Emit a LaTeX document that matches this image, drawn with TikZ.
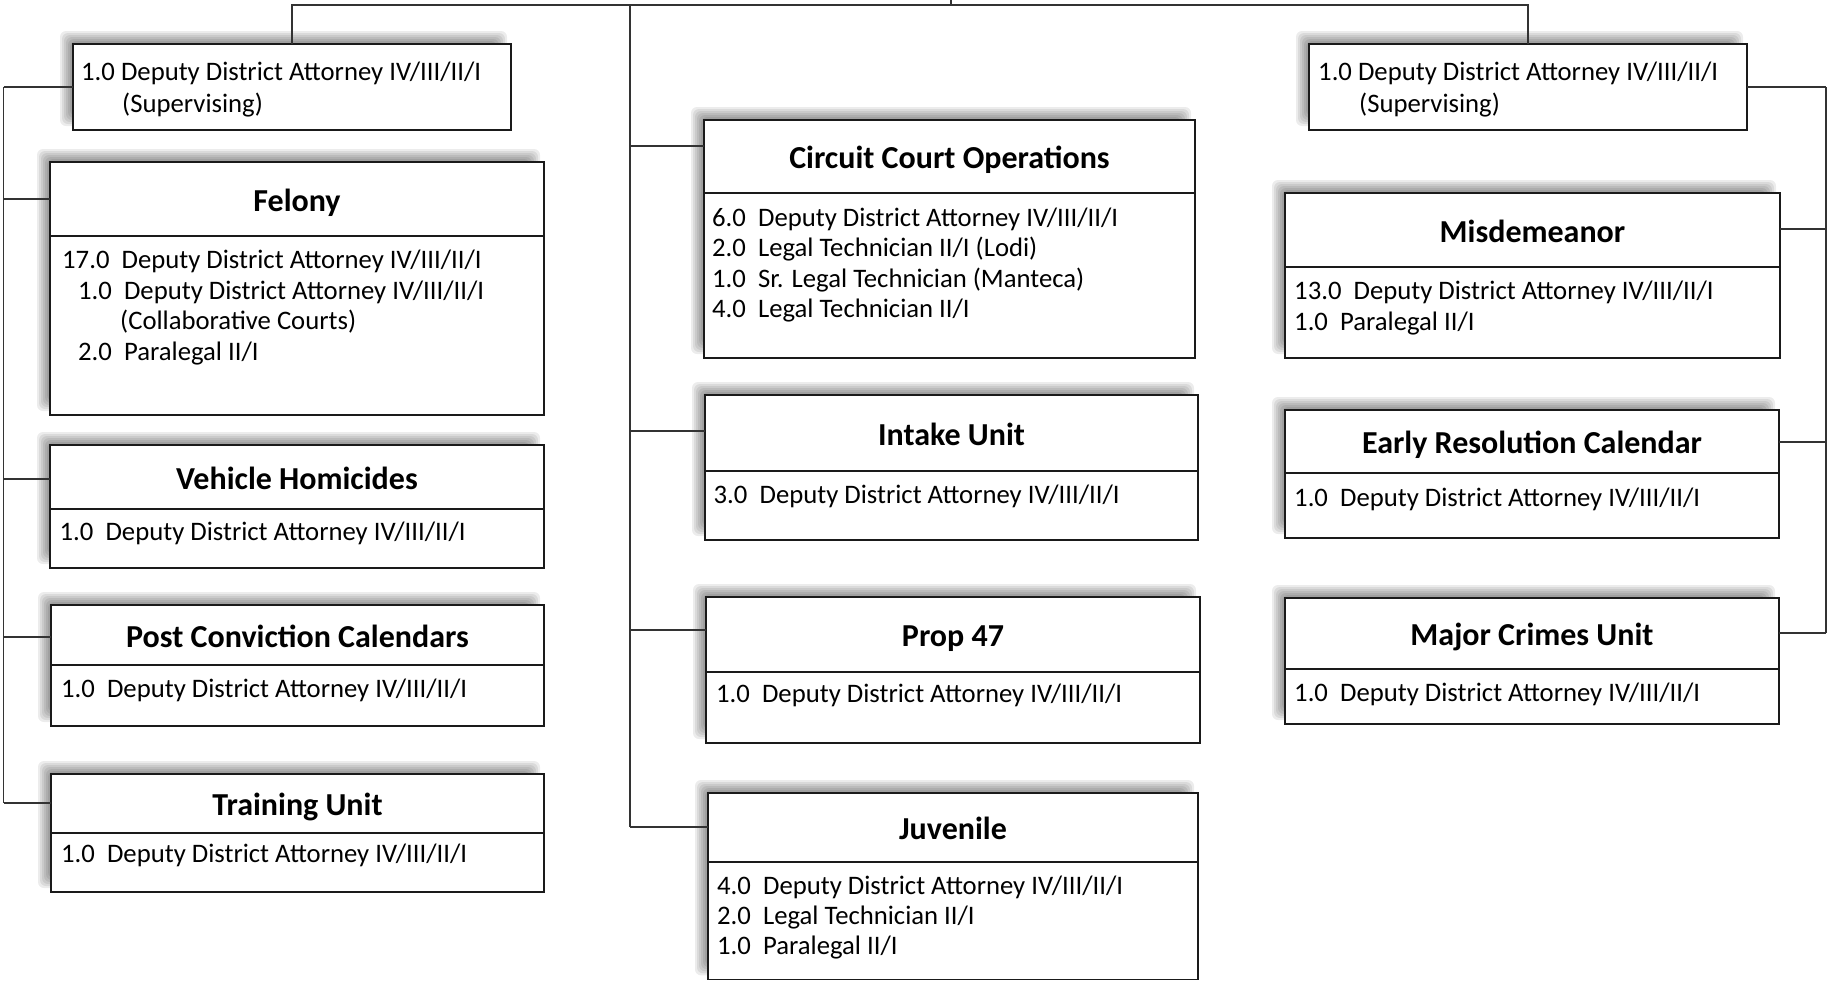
\documentclass[tikz,border=0pt]{standalone}
\usepackage{fontspec}
\setmainfont{Carlito}
\definecolor{edge}{HTML}{1A1A1A}
\definecolor{wire}{HTML}{333333}
\tikzset{
  boxst/.style={draw=edge, line width=1.6pt, fill=white, inner sep=0pt, outer sep=0pt},
  hdr/.style={draw=edge, line width=1.5pt},
  ttl/.style={anchor=base, inner sep=0pt, font=\fontsize{32}{36}\selectfont\bfseries},
  bodyt/.style={anchor=base west, inner sep=0pt, font=\fontsize{26.7}{30}\selectfont},
  wireln/.style={draw=wire, line width=1.5pt},
}
\newcommand\boxshadow[4]{%
  \foreach \e in {-4,-2,0,2,4,6,8}{%
    \fill[black, opacity=0.075, rounded corners=6pt]
      ({#1-5-\e},{#2-5-\e}) rectangle ({#3-12+\e},{#4-12+\e});
  }%
}
\newcommand\plainbox[5]{% name x1 y1 x2 y2
  \boxshadow{#2}{#3}{#4}{#5}
  \node[boxst, minimum width={#4-#2}, minimum height={#5-#3}] (#1) at ({(#2+#4)/2},{(#3+#5)/2}) {};
}
\newcommand\orgbox[7]{% name x1 y1 x2 yh y2 title
  \plainbox{#1}{#2}{#3}{#4}{#6}
  \draw[hdr] (#1.west |- 0,#5) -- (#1.east |- 0,#5);
  \node[ttl] (#1-t) at ({(#2+#4)/2},{(#3+#5)/2+12}) {#7};
}
\begin{document}
\begin{tikzpicture}[x=1pt, y=-1pt]
\useasboundingbox (0,0) rectangle (1828,980);

% ---------- left column ----------
\plainbox{supL}{73}{44}{511}{130}
\node[bodyt] (supL-a) at (81,80.5) {1.0 Deputy District Attorney IV/III/II/I};
\node[bodyt] (supL-b) at (122,112) {(Supervising)};

\orgbox{fel}{50}{162}{544}{236}{415}{Felony}
\node[bodyt] (fel-a) at (62,268.5) {17.0\ \ Deputy District Attorney IV/III/II/I};
\node[bodyt] (fel-b) at (78,299) {1.0\ \ Deputy District Attorney IV/III/II/I};
\node[bodyt] (fel-c) at (120,329.5) {(Collaborative Courts)};
\node[bodyt] (fel-d) at (78,360) {2.0\ \ Paralegal II/I};

\orgbox{veh}{50}{445}{544}{509}{568}{Vehicle Homicides}
\node[bodyt] (veh-a) at (59.5,540) {1.0\ \ Deputy District Attorney IV/III/II/I};

\orgbox{post}{51}{605}{544}{665}{726}{Post Conviction Calendars}
\node[bodyt] (post-a) at (61,697) {1.0\ \ Deputy District Attorney IV/III/II/I};

\orgbox{trn}{51}{774}{544}{833}{892}{Training Unit}
\node[bodyt] (trn-a) at (61,862) {1.0\ \ Deputy District Attorney IV/III/II/I};

% ---------- middle column ----------
\orgbox{cco}{704}{120}{1195}{193}{358}{Circuit Court Operations}
\node[bodyt] (cco-a) at (712,226) {6.0\ \ Deputy District Attorney IV/III/II/I};
\node[bodyt] (cco-b) at (712,256.5) {2.0\ \ Legal Technician II/I (Lodi)};
\node[bodyt] (cco-c) at (712,287) {1.0\ \ Sr. Legal Technician (Manteca)};
\node[bodyt] (cco-d) at (712,317) {4.0\ \ Legal Technician II/I};

\orgbox{intk}{705}{395}{1198}{471}{540}{Intake Unit}
\node[bodyt] (intk-a) at (713.5,503) {3.0\ \ Deputy District Attorney IV/III/II/I};

\orgbox{p47}{706}{597}{1200}{672}{743}{Prop 47}
\node[bodyt] (p47-a) at (716,702) {1.0\ \ Deputy District Attorney IV/III/II/I};

\orgbox{juv}{708}{793}{1198}{862}{979.3}{Juvenile}
\node[bodyt] (juv-a) at (717,894) {4.0\ \ Deputy District Attorney IV/III/II/I};
\node[bodyt] (juv-b) at (717,924) {2.0\ \ Legal Technician II/I};
\node[bodyt] (juv-c) at (717,954) {1.0\ \ Paralegal II/I};

% ---------- right column ----------
\plainbox{supR}{1309}{44}{1747}{130}
\node[bodyt] (supR-a) at (1318,80.5) {1.0 Deputy District Attorney IV/III/II/I};
\node[bodyt] (supR-b) at (1359,112) {(Supervising)};

\orgbox{mis}{1285}{193}{1780}{267}{358}{Misdemeanor}
\node[bodyt] (mis-a) at (1294,299) {13.0\ \ Deputy District Attorney IV/III/II/I};
\node[bodyt] (mis-b) at (1294,330) {1.0\ \ Paralegal II/I};

\orgbox{erc}{1285}{410}{1779}{473}{538}{Early Resolution Calendar}
\node[bodyt] (erc-a) at (1294,506) {1.0\ \ Deputy District Attorney IV/III/II/I};

\orgbox{mcu}{1285}{598}{1779}{669}{724}{Major Crimes Unit}
\node[bodyt] (mcu-a) at (1294,701) {1.0\ \ Deputy District Attorney IV/III/II/I};

% ---------- connectors ----------
\coordinate (up) at (951,0);
\coordinate (tj) at (951,5);
\coordinate (tl) at (292,5);
\coordinate (tr) at (1528,5);
\draw[wireln] (up) -- (tj);
\draw[wireln] (supL.north) -- (tl) -- (tr) -- (supR.north);

% left bus
\coordinate (lb0) at (3.5,87);
\coordinate (lb1) at (3.5,199);
\coordinate (lb2) at (3.5,479);
\coordinate (lb3) at (3.5,637);
\coordinate (lb4) at (3.5,803);
\draw[wireln] (lb0) -- (lb4);
\draw[wireln] (lb0) -- (supL.west |- lb0);
\draw[wireln] (lb1) -- (fel.west |- lb1);
\draw[wireln] (lb2) -- (veh.west |- lb2);
\draw[wireln] (lb3) -- (post.west |- lb3);
\draw[wireln] (lb4) -- (trn.west |- lb4);

% middle bus
\coordinate (mb) at (630,5);
\coordinate (mb1) at (630,146);
\coordinate (mb2) at (630,431);
\coordinate (mb3) at (630,630);
\coordinate (mb4) at (630,827);
\draw[wireln] (mb) -- (mb4);
\draw[wireln] (mb1) -- (cco.west |- mb1);
\draw[wireln] (mb2) -- (intk.west |- mb2);
\draw[wireln] (mb3) -- (p47.west |- mb3);
\draw[wireln] (mb4) -- (juv.west |- mb4);

% right bus
\coordinate (rb0) at (1826,87);
\coordinate (rb1) at (1826,229);
\coordinate (rb2) at (1826,442);
\coordinate (rb3) at (1826,633);
\draw[wireln] (rb0) -- (rb3);
\draw[wireln] (rb0) -- (supR.east |- rb0);
\draw[wireln] (rb1) -- (mis.east |- rb1);
\draw[wireln] (rb2) -- (erc.east |- rb2);
\draw[wireln] (rb3) -- (mcu.east |- rb3);
\end{tikzpicture}
\end{document}
